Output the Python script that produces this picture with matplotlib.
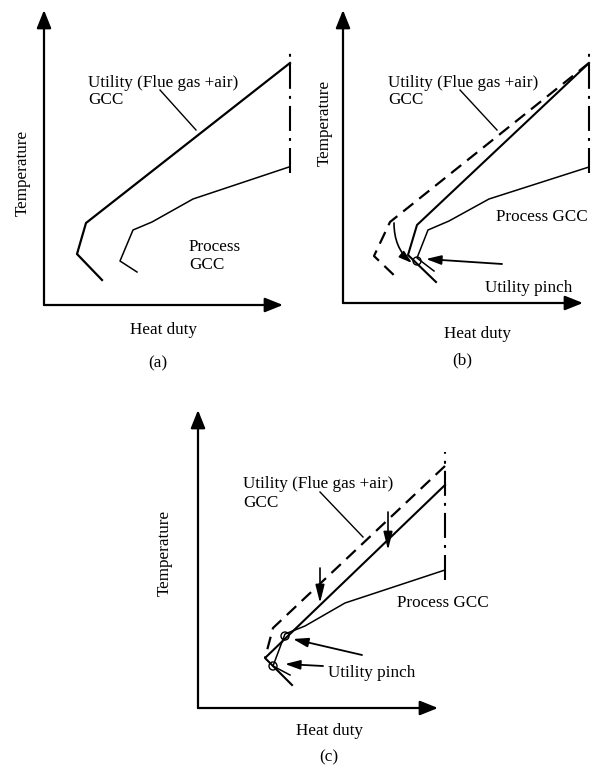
import matplotlib
matplotlib.use("Agg")
import matplotlib.pyplot as plt
from matplotlib.patches import Circle

plt.rcParams['font.family'] = ['Liberation Serif', 'DejaVu Serif']
FS = 12.3

# ---------- schematic data (panel-local units, origin = axes corner) ----------
# panel (a)
a_yaxis_top = 295
a_xaxis_end = 239
a_limit_x, a_limit_y = 246, [132, 257]
a_util_x = [246, 42, 33, 58]
a_util_y = [242, 82, 51, 25]
a_proc_x = [245, 149, 108, 89, 76, 93]
a_proc_y = [138, 106, 83, 75, 44, 33]
a_leader = [(116, 215), (152, 175)]

# panel (b)
b_yaxis_top = 293
b_xaxis_end = 240
b_limit_x, b_limit_y = 246, [130, 255]
b_util_x = [246, 74, 65, 93]
b_util_y = [240, 78, 48, 21]
b_util0_x = [246, 47, 31, 56]
b_util0_y = [240, 81, 47, 23]
b_proc_x = [246, 146, 106, 85, 74, 91]
b_proc_y = [136, 104, 82, 73, 45, 32]
b_pinch = (74, 42)
b_leader = [(117, 213), (154, 173)]
b_shift_arrow = [(51, 80), (69, 40)]
b_pinch_arrow = [(159, 39), (83, 44)]

# panel (c)
c_yaxis_top = 298
c_xaxis_end = 240
c_limit_x, c_limit_y = 247, [128, 256]
c_util_x = [247, 67, 94]
c_util_y = [223, 50, 23]
c_util0_x = [247, 75, 67]
c_util0_y = [242, 80, 50]
c_proc_x = [247, 147, 107, 87, 75, 92]
c_proc_y = [138, 105, 82, 74, 42, 33]
c_pinches = [(87, 72), (75, 42)]
c_leader = [(122, 216), (165, 171)]
c_down_arrows = [((190, 196), (190, 158)), ((122, 140), (122, 105))]
c_pinch_arrows = [((164, 53), (95, 69)), ((125, 42), (87, 44))]

fig = plt.figure(figsize=(5.92, 7.69), dpi=100)
W, H = 592, 769


def panel(ox, oy):
    # axes where one data unit = one pixel, origin at (ox, oy) image pixels
    x0, x1, y0, y1 = -50, 260, -70, 305
    ax = fig.add_axes([(ox + x0) / W, 1 - (oy - y0) / H, (x1 - x0) / W, (y1 - y0) / H])
    ax.set_xlim(x0, x1)
    ax.set_ylim(y0, y1)
    ax.axis('off')
    ax.patch.set_visible(False)
    return ax


def arrow(ax, start, tip, lw=1.2, ms=14, hl=0.65, hw=0.2, **kw):
    ax.annotate('', xy=tip, xytext=start,
                arrowprops=dict(arrowstyle='-|>,head_length=%s,head_width=%s' % (hl, hw),
                                lw=lw, color='black', mutation_scale=ms,
                                shrinkA=0, shrinkB=0, **kw),
                annotation_clip=False)


def axes_frame(ax, ytop, xend, temp_pos, duty_pos, tag, tag_pos):
    arrow(ax, (0, 0), (0, ytop), lw=1.6, ms=20, hl=0.55, hw=0.22)
    arrow(ax, (0, 0), (xend, 0), lw=1.6, ms=20, hl=0.55, hw=0.22)
    ax.text(temp_pos[0], temp_pos[1], 'Temperature', rotation=90, ha='center',
            va='center', fontsize=FS)
    ax.text(duty_pos[0], duty_pos[1], 'Heat duty', ha='center', va='baseline', fontsize=FS)
    ax.text(tag_pos[0], tag_pos[1], tag, ha='center', va='center', fontsize=FS)


def limit_line(ax, x, ys):
    ax.plot([x, x], ys, color='black', lw=1.5, linestyle=(0, (12, 3.4, 1.4, 3.4)),
            solid_capstyle='butt', dash_capstyle='butt')


def leader(ax, pts):
    ax.plot([pts[0][0], pts[1][0]], [pts[0][1], pts[1][1]], color='black', lw=1.0)


DASH = (0, (5.8, 3.4))

# ---------------- (a) ----------------
ax = panel(44, 305)
axes_frame(ax, a_yaxis_top, a_xaxis_end, (-21, 132), (119, -29), '(a)', (114, -58))
limit_line(ax, a_limit_x, a_limit_y)
ax.plot(a_util_x, a_util_y, color='black', lw=1.6)
ax.plot(a_proc_x, a_proc_y, color='black', lw=1.1)
leader(ax, a_leader)
ax.text(44, 218, 'Utility (Flue gas +air)', fontsize=FS, va='baseline')
ax.text(44, 201, 'GCC', fontsize=FS, va='baseline')
ax.text(145, 54, 'Process', fontsize=FS, va='baseline')
ax.text(145, 36, 'GCC', fontsize=FS, va='baseline')

# ---------------- (b) ----------------
ax = panel(343, 303)
axes_frame(ax, b_yaxis_top, b_xaxis_end, (-18, 180), (134, -35), '(b)', (119, -57))
limit_line(ax, b_limit_x, b_limit_y)
ax.plot(b_util0_x, b_util0_y, color='black', lw=1.6, linestyle=DASH)
ax.plot(b_util_x, b_util_y, color='black', lw=1.5)
ax.plot(b_proc_x, b_proc_y, color='black', lw=1.1)
ax.add_patch(Circle(b_pinch, 4, fill=False, lw=1.0, color='black'))
leader(ax, b_leader)
arrow(ax, b_shift_arrow[0], b_shift_arrow[1], lw=1.2, ms=12,
      connectionstyle='angle3,angleA=90,angleB=140')
arrow(ax, b_pinch_arrow[0], b_pinch_arrow[1], lw=1.3, ms=14)
ax.text(45, 216, 'Utility (Flue gas +air)', fontsize=FS, va='baseline')
ax.text(45, 199, 'GCC', fontsize=FS, va='baseline')
ax.text(153, 82, 'Process GCC', fontsize=FS, va='baseline')
ax.text(142, 11, 'Utility pinch', fontsize=FS, va='baseline')

# ---------------- (c) ----------------
ax = panel(198, 708)
axes_frame(ax, c_yaxis_top, c_xaxis_end, (-33, 155), (131, -27), '(c)', (131, -49))
limit_line(ax, c_limit_x, c_limit_y)
ax.plot(c_util0_x, c_util0_y, color='black', lw=1.6, linestyle=DASH)
ax.plot(c_util_x, c_util_y, color='black', lw=1.5)
ax.plot(c_proc_x, c_proc_y, color='black', lw=1.1)
for p in c_pinches:
    ax.add_patch(Circle(p, 4, fill=False, lw=1.0, color='black'))
leader(ax, c_leader)
for s, t in c_down_arrows:
    arrow(ax, s, t, lw=1.2, ms=16, hl=0.68, hw=0.17)
for s, t in c_pinch_arrows:
    arrow(ax, s, t, lw=1.3, ms=14)
ax.text(45, 220, 'Utility (Flue gas +air)', fontsize=FS, va='baseline')
ax.text(45, 201, 'GCC', fontsize=FS, va='baseline')
ax.text(199, 101, 'Process GCC', fontsize=FS, va='baseline')
ax.text(130, 31, 'Utility pinch', fontsize=FS, va='baseline')

fig.savefig('out.png', dpi=100)
